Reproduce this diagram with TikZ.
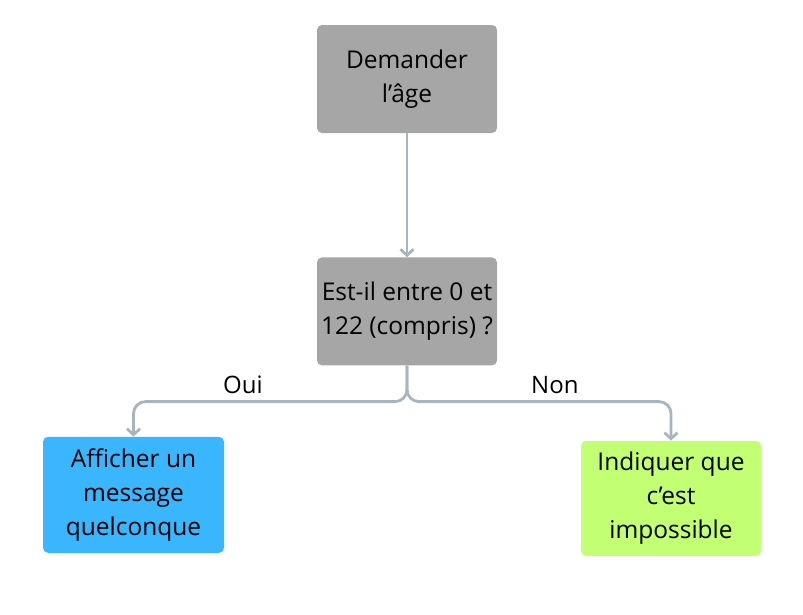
\documentclass[tikz,border=0pt]{standalone}
\usepackage{fontspec}
\setmainfont{Open Sans}
\usetikzlibrary{arrows.meta, positioning}

\definecolor{boxgray}{RGB}{166,166,166}
\definecolor{boxblue}{RGB}{58,182,255}
\definecolor{boxgreen}{RGB}{194,255,115}
\definecolor{linkgray}{RGB}{168,181,191}

\begin{document}
\begin{tikzpicture}[
      x=1pt, y=-1pt,
      box/.style={rectangle, rounded corners=5pt, minimum width=180pt,
                  minimum height=108pt, align=center, inner sep=2pt,
                  font=\fontsize{24.5}{34}\selectfont},
      arrow/.style={-{Straight Barb[length=6pt, width=13pt]}, line width=2.8pt,
                    draw=linkgray, rounded corners=12pt},
      lbl/.style={font=\fontsize{24}{28}\selectfont, text=black}
    ]
    \useasboundingbox (0,0) rectangle (803,614);
    \node[box, fill=boxgray] (ask) at (407,79) {Demander\\l’âge};
    \node[box, fill=boxgray, below=124pt of ask] (check) {Est-il entre 0 et\\122 (compris) ?};
    \node[box, fill=boxblue, minimum width=181pt, minimum height=116pt,
          below=71pt of check, xshift=-273.5pt] (yes) {Afficher un\\message\\quelconque};
    \node[box, fill=boxgreen, minimum height=115pt,
          below=75pt of check, xshift=264pt] (no) {Indiquer que\\c’est\\impossible};

    \draw[arrow] (ask) -- (check);
    \draw[arrow] (check.south) -- ++(0,36) -| node[lbl, pos=0.3, above=3pt]{Oui} (yes.north);
    \draw[arrow] (check.south) -- ++(0,36) -| node[lbl, pos=0.28, above=3pt]{Non} (no.north);
\end{tikzpicture}
\end{document}
